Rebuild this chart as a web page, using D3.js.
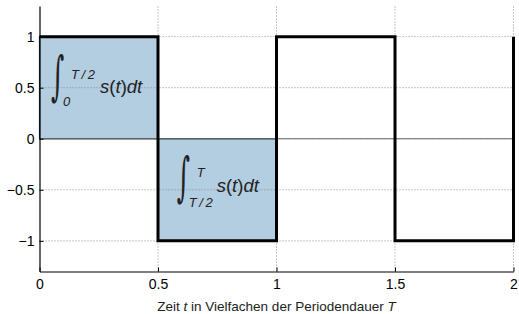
<!DOCTYPE html>
<html>
<head>
<meta charset="utf-8">
<script src="https://cdn.jsdelivr.net/npm/d3@7"></script>
<style>
  body { margin: 0; background: #fff; }
  svg { display: block; font-family: "Liberation Sans", Arial, sans-serif; }
</style>
</head>
<body>
<svg id="chart" width="519" height="314"></svg>
<script>
// square wave s(t), t in multiples of the period T
const waveT = [0, 0.5, 0.5, 1, 1, 1.5, 1.5, 2, 2];
const waveS = [1, 1, -1, -1, 1, 1, -1, -1, 1];
// shaded half-period areas
const areaStart = [0, 0.5];
const areaEnd = [0.5, 1];
const areaValue = [1, -1];
const xTicks = [0, 0.5, 1, 1.5, 2];
const yTicks = [-1, -0.5, 0, 0.5, 1];

const svg = d3.select("#chart");
const x = d3.scaleLinear().domain([0, 2]).range([39.5, 513.5]);
const y = d3.scaleLinear().domain([-1.3, 1.3]).range([271.5, 6]);
const fmt = (d) => String(d).replace("-", "\u2212");

// filled areas
svg.append("g")
  .selectAll("rect")
  .data(areaStart)
  .enter()
  .append("rect")
  .attr("x", (d, i) => x(areaStart[i]))
  .attr("width", (d, i) => x(areaEnd[i]) - x(areaStart[i]))
  .attr("y", (d, i) => y(Math.max(0, areaValue[i])))
  .attr("height", (d, i) => Math.abs(y(areaValue[i]) - y(0)))
  .attr("fill", "#b3cde1")
  .attr("stroke", "#1c2e3d")
  .attr("stroke-width", 1.2);

// dotted grid
const grid = svg.append("g").attr("stroke", "#8c8c8c").attr("stroke-dasharray", "1,2");
grid.selectAll(".gx").data(xTicks.slice(1)).enter().append("line")
  .attr("x1", (d) => x(d)).attr("x2", (d) => x(d))
  .attr("y1", y.range()[0]).attr("y2", y.range()[1]);
grid.selectAll(".gy").data(yTicks).enter().append("line")
  .attr("x1", x.range()[0]).attr("x2", x.range()[1])
  .attr("y1", (d) => y(d)).attr("y2", (d) => y(d));

// zero line
svg.append("line")
  .attr("x1", x(0)).attr("x2", x(2))
  .attr("y1", y(0)).attr("y2", y(0))
  .attr("stroke", "#666").attr("stroke-width", 1.2);

// square wave
const line = d3.line()
  .x((d, i) => x(waveT[i]))
  .y((d, i) => y(waveS[i]));
svg.append("path")
  .datum(waveT)
  .attr("d", line)
  .attr("fill", "none")
  .attr("stroke", "#000")
  .attr("stroke-width", 3)
  .attr("stroke-linejoin", "miter");

// axes
const xAxis = svg.append("g")
  .attr("transform", `translate(0,${y.range()[0]})`)
  .call(d3.axisBottom(x).tickValues(xTicks).tickFormat(fmt).tickSizeInner(-4).tickSizeOuter(0).tickPadding(8));
const yAxis = svg.append("g")
  .attr("transform", `translate(${x.range()[0]},0)`)
  .call(d3.axisLeft(y).tickValues(yTicks).tickFormat(fmt).tickSizeInner(-4).tickSizeOuter(0).tickPadding(5));
[xAxis, yAxis].forEach((a) => {
  a.select(".domain").attr("stroke", "#000").attr("stroke-width", 1.2);
  a.selectAll(".tick line").attr("stroke", "#000");
  a.selectAll("text").attr("font-size", 14).attr("fill", "#000")
    .attr("font-family", "'Liberation Sans', Arial, sans-serif");
});

// axis title
const title = svg.append("text")
  .attr("x", x(1))
  .attr("y", 311)
  .attr("text-anchor", "middle")
  .attr("font-size", 13.5)
  .attr("fill", "#222");
title.append("tspan").text("Zeit ");
title.append("tspan").attr("font-style", "italic").text("t");
title.append("tspan").text(" in Vielfachen der Periodendauer ");
title.append("tspan").attr("font-style", "italic").text("T");

// integral labels, anchored at the centre of the integral sign
function integral(tx, sv, upper, lower, up, lo, body) {
  const cx = x(tx), cy = y(sv);
  const g = svg.append("g").attr("fill", "#222");
  g.append("text")
    .attr("transform", `translate(${cx - 5},${cy}) scale(0.75,1.55)`)
    .attr("y", 5)
    .attr("font-family", "'DejaVu Serif', serif")
    .attr("font-style", "italic")
    .attr("font-size", 34)
    .text("\u222B");
  g.append("text")
    .attr("x", cx + up[0]).attr("y", cy + up[1])
    .attr("font-size", 13).attr("font-style", "italic")
    .text(upper);
  g.append("text")
    .attr("x", cx + lo[0]).attr("y", cy + lo[1])
    .attr("font-size", 13).attr("font-style", "italic")
    .text(lower);
  const t = g.append("text")
    .attr("x", cx + body[0]).attr("y", cy + body[1])
    .attr("font-size", 18.5);
  t.append("tspan").attr("font-style", "italic").text("s");
  t.append("tspan").text("(");
  t.append("tspan").attr("font-style", "italic").text("t");
  t.append("tspan").text(")");
  t.append("tspan").attr("font-style", "italic").text("dt");
}
integral(0.07, 0.51, "T\u2009/\u20092", "0", [15, -8], [7, 19.5], [44, 6.5]);
integral(0.6, -0.47, "T", "T\u2009/\u20092", [15, -10], [7, 20], [35, 5.5]);
</script>
</body>
</html>
